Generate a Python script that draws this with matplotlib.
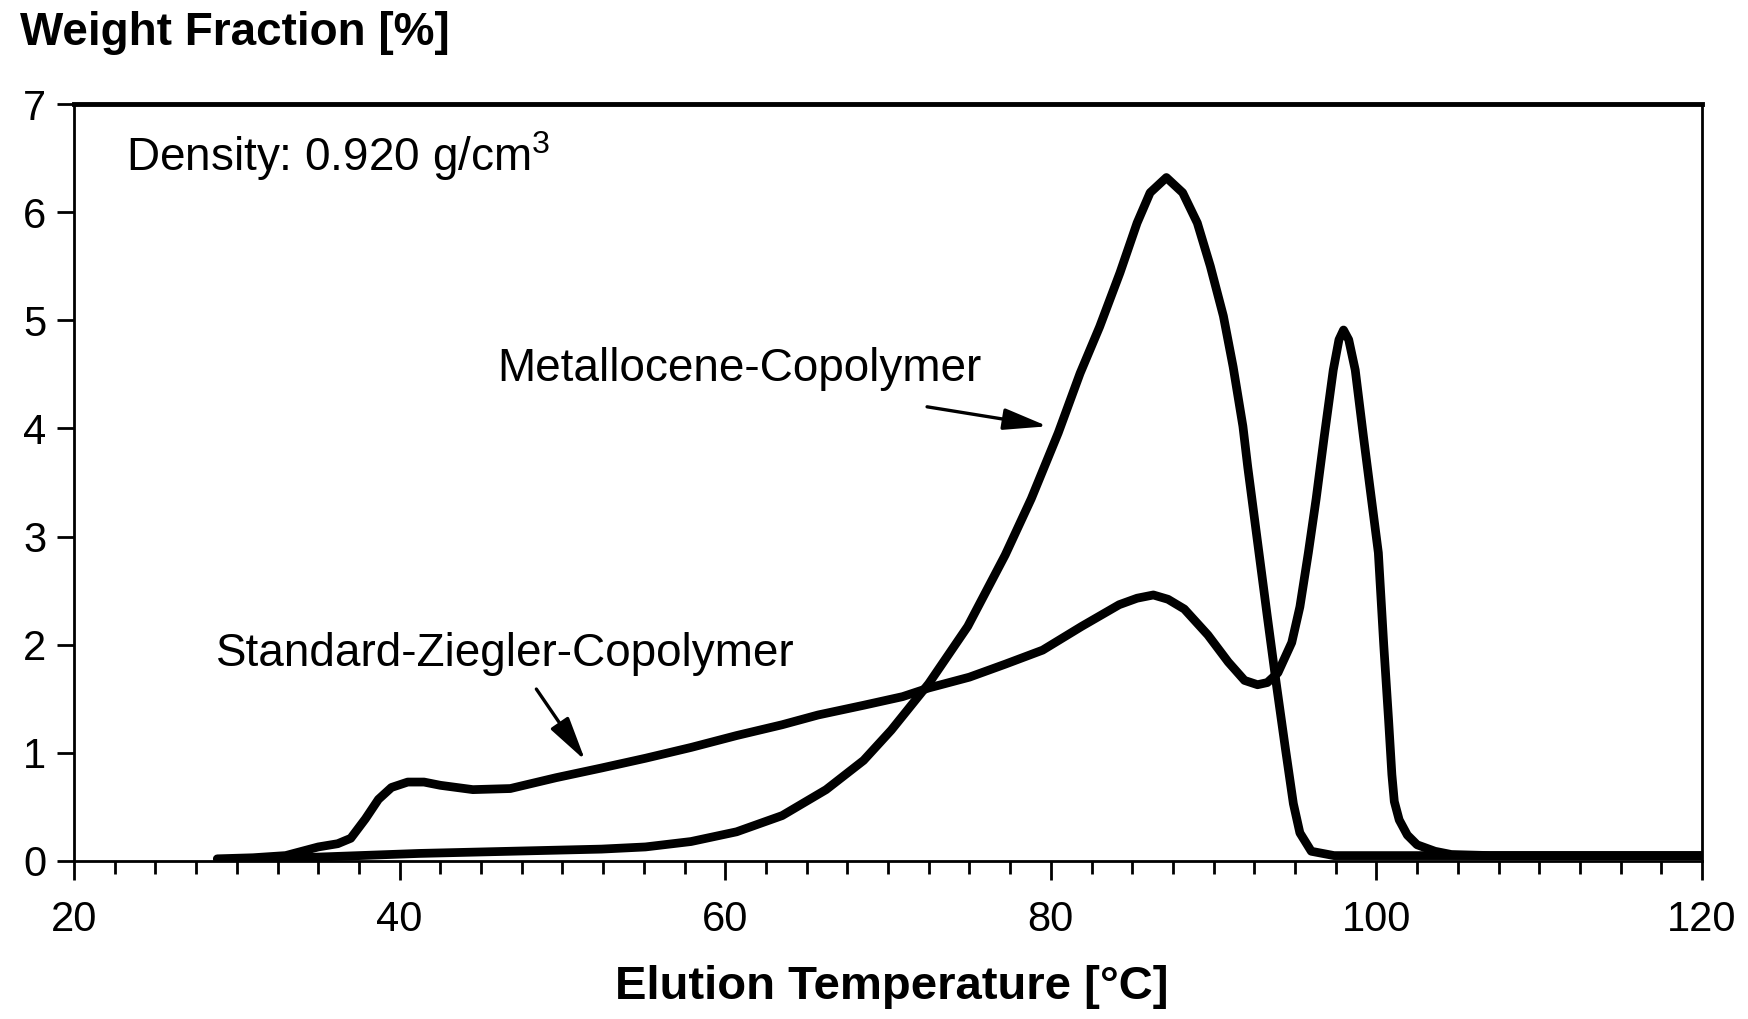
import matplotlib
matplotlib.use("Agg")
import matplotlib.pyplot as plt
from matplotlib.ticker import MultipleLocator

plt.rcParams['font.family'] = ['Liberation Sans', 'DejaVu Sans']
plt.rcParams['mathtext.fontset'] = 'custom'
plt.rcParams['mathtext.rm'] = 'Liberation Sans'
plt.rcParams['mathtext.default'] = 'regular'

# Standard Ziegler copolymer
zn_temp = [28.8, 31, 33, 34, 35, 36.2, 37, 37.9, 38.7, 39.5, 40.5, 41.5, 42.5, 44.5,
           46.8, 49.6, 52.4, 55.1, 57.9, 60.7, 63.5, 65.7, 68.5, 70.9, 72.5, 75,
           77.2, 79.5, 81.9, 84.2, 85.3, 86.3, 87.2, 88.2, 89.65, 90.9, 91.9, 92.7,
           93.3, 93.95, 94.8, 95.3, 95.82, 96.3, 96.8, 97.35, 97.7, 97.98, 98.3, 98.7,
           99.2, 99.65, 100.12, 100.45, 100.75, 100.95, 101.1, 101.4, 101.9, 102.5,
           103.6, 104.6, 107, 110, 115, 120]
zn_wt = [0.02, 0.03, 0.05, 0.09, 0.13, 0.16, 0.21, 0.39, 0.57, 0.68, 0.73, 0.73, 0.70, 0.66,
         0.67, 0.77, 0.86, 0.95, 1.05, 1.16, 1.26, 1.35, 1.44, 1.52, 1.6, 1.7,
         1.82, 1.95, 2.17, 2.37, 2.43, 2.46, 2.42, 2.33, 2.09, 1.84, 1.67, 1.63,
         1.65, 1.74, 2.02, 2.35, 2.85, 3.35, 3.93, 4.54, 4.82, 4.91, 4.82, 4.54,
         3.93, 3.4, 2.85, 2.0, 1.3, 0.8, 0.55, 0.38, 0.24, 0.15,
         0.09, 0.06, 0.05, 0.05, 0.05, 0.05]

# Metallocene copolymer
mc_temp = [29.5, 32, 35.7, 41.2, 46.8, 52.4, 55.1, 57.9, 60.7, 63.5, 66.2, 68.5, 70.2,
           72.5, 74.9, 77.2, 78.8, 80.46, 81.8, 83.0, 84.25, 85.3, 86.1, 87.1, 88.1,
           89.0, 89.8, 90.6, 91.2, 91.8, 92.1, 92.7, 93.3, 93.85, 94.4, 94.9, 95.3,
           96.0, 97.4, 100, 105, 110, 120]
mc_wt = [0.01, 0.02, 0.04, 0.07, 0.09, 0.11, 0.13, 0.18, 0.27, 0.42, 0.66, 0.93, 1.21,
         1.64, 2.17, 2.83, 3.35, 3.96, 4.51, 4.94, 5.44, 5.9, 6.18, 6.32, 6.18,
         5.9, 5.5, 5.04, 4.57, 4.02, 3.64, 2.95, 2.26, 1.64, 1.05, 0.53, 0.26,
         0.09, 0.05, 0.05, 0.05, 0.05, 0.05]

fig = plt.figure(figsize=(17.48, 10.19), dpi=100)
ax = fig.add_axes([74/1748, 1-861/1019, (1702-74)/1748, (861-104)/1019])

ax.plot(mc_temp, mc_wt, color='black', lw=6.3, solid_joinstyle='round', solid_capstyle='round')
ax.plot(zn_temp, zn_wt, color='black', lw=6.3, solid_joinstyle='round', solid_capstyle='round')

ax.set_xlim(20, 120)
ax.set_ylim(0, 7)
ax.xaxis.set_major_locator(MultipleLocator(20))
ax.xaxis.set_minor_locator(MultipleLocator(2.5))
ax.yaxis.set_major_locator(MultipleLocator(1))
ax.tick_params(axis='x', which='major', direction='out', length=14, width=2, labelsize=30, pad=14)
ax.tick_params(axis='x', which='minor', direction='out', length=9, width=2)
ax.tick_params(axis='y', which='major', direction='out', length=12, width=2, labelsize=30, pad=8)
for s in ['left', 'bottom', 'right']:
    ax.spines[s].set_linewidth(2)
ax.spines['top'].set_linewidth(3.5)

ax.text(23.2, 6.52, 'Density: 0.920 g/cm$^{3}$', fontsize=33, va='center', ha='left')
ax.text(46.0, 4.55, 'Metallocene-Copolymer', fontsize=33, va='center', ha='left')
ax.text(28.7, 1.91, 'Standard-Ziegler-Copolymer', fontsize=33, va='center', ha='left')

arrow = dict(arrowstyle='-|>,head_length=0.9,head_width=0.22', lw=2.4, color='black',
             mutation_scale=30, shrinkA=0, shrinkB=0)
ax.annotate('', xy=(79.8, 4.02), xytext=(72.4, 4.2), arrowprops=arrow)
ax.annotate('', xy=(51.4, 0.93), xytext=(48.4, 1.59), arrowprops=arrow)

fig.text(20/1748, 1-33/1019, 'Weight Fraction [%]', fontsize=33, fontweight='bold', va='center', ha='left')
fig.text(892/1748, 1-987/1019, 'Elution Temperature [°C]', fontsize=34, fontweight='bold', va='center', ha='center')

fig.savefig('out.png', dpi=100)
